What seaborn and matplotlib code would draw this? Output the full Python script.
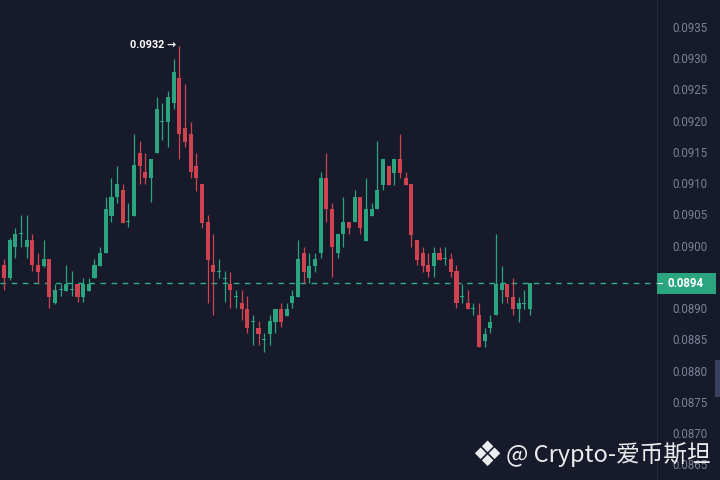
import numpy as np
import pandas as pd
import seaborn as sns
import matplotlib.pyplot as plt
from matplotlib.patches import Rectangle

# OHLC (one row per candle, left to right)
opens = [0.08969, 0.08948, 0.08998, 0.09019, 0.08998, 0.09009, 0.08969, 0.08967, 0.08979, 0.08908,
         0.08929, 0.08927, 0.08929, 0.08939, 0.08918, 0.08927, 0.08948, 0.08967, 0.08988, 0.09047,
         0.09078, 0.09089, 0.09038, 0.09047, 0.09148, 0.09118, 0.09108, 0.09148, 0.09198, 0.09198,
         0.09228, 0.09268, 0.09188, 0.09179, 0.09128, 0.09099, 0.09038, 0.08969, 0.08958, 0.08948,
         0.08939, 0.08919, 0.08908, 0.08899, 0.08879, 0.08868, 0.08849, 0.08859, 0.08878, 0.08899,
         0.08887, 0.08908, 0.08918, 0.08988, 0.08948, 0.08967, 0.08988, 0.09108, 0.09059, 0.08988,
         0.09019, 0.09038, 0.09038, 0.09078, 0.09007, 0.09047, 0.09059, 0.09097, 0.09128, 0.09116,
         0.09139, 0.09108, 0.09099, 0.09009, 0.08988, 0.08969, 0.08967, 0.08988, 0.08979, 0.08979,
         0.08959, 0.08918, 0.08908, 0.08899, 0.08889, 0.08847, 0.08868, 0.08889, 0.08929, 0.08939,
         0.08918, 0.08899, 0.08908, 0.08899]
highs = [0.08979, 0.09012, 0.09028, 0.09049, 0.09049, 0.09019, 0.08988, 0.09009, 0.08979, 0.08939,
         0.08939, 0.08969, 0.08959, 0.08939, 0.08948, 0.08948, 0.08979, 0.08998, 0.09078, 0.09108,
         0.09128, 0.09099, 0.09068, 0.09179, 0.09168, 0.09148, 0.09139, 0.09238, 0.09228, 0.09248,
         0.09299, 0.09320, 0.09259, 0.09198, 0.09148, 0.09099, 0.09049, 0.09019, 0.08979, 0.08959,
         0.08958, 0.08929, 0.08929, 0.08919, 0.08889, 0.08879, 0.08860, 0.08889, 0.08899, 0.08908,
         0.08908, 0.08929, 0.09009, 0.08998, 0.08988, 0.08988, 0.09118, 0.09148, 0.09068, 0.09019,
         0.09078, 0.09038, 0.09089, 0.09078, 0.09108, 0.09068, 0.09168, 0.09139, 0.09128, 0.09139,
         0.09179, 0.09118, 0.09099, 0.09009, 0.08998, 0.08988, 0.08998, 0.08998, 0.08998, 0.08988,
         0.08969, 0.08939, 0.08929, 0.08908, 0.08908, 0.08868, 0.08889, 0.09019, 0.08967, 0.08939,
         0.08948, 0.08918, 0.08929, 0.08940]
lows = [0.08929, 0.08945, 0.08980, 0.08998, 0.08980, 0.08959, 0.08940, 0.08966, 0.08900, 0.08907,
        0.08919, 0.08927, 0.08919, 0.08910, 0.08910, 0.08927, 0.08948, 0.08967, 0.08988, 0.09038,
        0.09068, 0.09036, 0.09030, 0.09047, 0.09099, 0.09099, 0.09070, 0.09148, 0.09169, 0.09158,
        0.09219, 0.09139, 0.09158, 0.09108, 0.09087, 0.09028, 0.08908, 0.08889, 0.08948, 0.08910,
        0.08900, 0.08900, 0.08881, 0.08860, 0.08841, 0.08841, 0.08830, 0.08841, 0.08860, 0.08870,
        0.08887, 0.08900, 0.08918, 0.08940, 0.08940, 0.08958, 0.08980, 0.09038, 0.08950, 0.08980,
        0.08998, 0.09019, 0.09038, 0.09019, 0.09007, 0.09047, 0.09059, 0.09089, 0.09097, 0.09097,
        0.09108, 0.09097, 0.08998, 0.08969, 0.08958, 0.08950, 0.08950, 0.08977, 0.08969, 0.08950,
        0.08900, 0.08908, 0.08899, 0.08889, 0.08838, 0.08838, 0.08860, 0.08889, 0.08908, 0.08908,
        0.08889, 0.08878, 0.08899, 0.08889]
closes = [0.08948, 0.09009, 0.09019, 0.09019, 0.09009, 0.08969, 0.08958, 0.08979, 0.08918, 0.08929,
          0.08929, 0.08939, 0.08929, 0.08918, 0.08939, 0.08939, 0.08969, 0.08988, 0.09059, 0.09078,
          0.09099, 0.09036, 0.09038, 0.09129, 0.09128, 0.09108, 0.09139, 0.09219, 0.09198, 0.09238,
          0.09278, 0.09179, 0.09166, 0.09118, 0.09108, 0.09036, 0.08977, 0.08958, 0.08958, 0.08948,
          0.08929, 0.08919, 0.08899, 0.08868, 0.08879, 0.08859, 0.08849, 0.08879, 0.08899, 0.08878,
          0.08899, 0.08919, 0.08979, 0.08958, 0.08967, 0.08979, 0.09108, 0.09059, 0.08998, 0.09019,
          0.09038, 0.09028, 0.09078, 0.09028, 0.09059, 0.09059, 0.09089, 0.09139, 0.09097, 0.09139,
          0.09116, 0.09097, 0.09017, 0.08977, 0.08967, 0.08958, 0.08988, 0.08977, 0.08979, 0.08958,
          0.08908, 0.08918, 0.08899, 0.08899, 0.08838, 0.08859, 0.08878, 0.08939, 0.08939, 0.08918,
          0.08899, 0.08908, 0.08908, 0.08940]
last_price = 0.0894
price_ticks = [0.0865, 0.0870, 0.0875, 0.0880, 0.0885, 0.0890, 0.0895,
               0.0900, 0.0905, 0.0910, 0.0915, 0.0920, 0.0925, 0.0930, 0.0935]
watermark = "@ Crypto-爱币斯坦"

df = pd.DataFrame({"open": opens, "high": highs, "low": lows, "close": closes})
df["idx"] = np.arange(len(df))
df["up"] = df["close"] >= df["open"]

bg = "#161a2a"
up_c = "#2aa57f"
dn_c = "#cf4351"

sns.set_theme(style="dark", rc={"axes.facecolor": bg, "figure.facecolor": bg,
                                "axes.edgecolor": "#22273a", "axes.grid": False})
plt.rcParams["font.family"] = ["Roboto", "Noto Sans CJK SC", "DejaVu Sans"]

fig = plt.figure(figsize=(7.2, 4.8), dpi=100)
ax = fig.add_axes([0, 0, 657 / 720, 1])

colors = np.where(df["up"], up_c, dn_c)
ax.vlines(df["idx"], df["low"], df["high"], colors=colors, linewidth=0.9, zorder=2)
body_h = np.maximum((df["close"] - df["open"]).abs(), 0.000016)
body_lo = np.minimum(df["open"], df["close"])
body_lo = np.where((df["close"] - df["open"]).abs() < 0.000016, body_lo - 0.000008, body_lo)
ax.bar(df["idx"], body_h, bottom=body_lo, width=0.72, color=colors, linewidth=0, zorder=3)

ax.set_xlim(-0.707, 115.45)
ax.set_ylim(0.086247, 0.093932)
ax.set_xticks([])
ax.set_yticks(price_ticks)
ax.set_yticklabels([f"{t:.4f}" for t in price_ticks])
ax.yaxis.tick_right()
ax.tick_params(axis="y", length=0, pad=11, labelcolor="#7b8198", labelsize=8.3)
for s in ["left", "top", "bottom"]:
    ax.spines[s].set_visible(False)
ax.spines["right"].set_color("#22273a")
ax.spines["right"].set_linewidth(0.8)

# current price line and tag
ax.axhline(last_price, color="#2fb089", linestyle=(0, (4, 4)), linewidth=1.0, zorder=1)
ytr = ax.get_yaxis_transform()
box_h = 21 / 62462
ax.add_patch(Rectangle((1.0, last_price - box_h / 2), 59 / 657, box_h, transform=ytr,
                       facecolor=up_c, edgecolor="none", clip_on=False, zorder=6))
ax.plot([1.0015, 1.007], [last_price, last_price], transform=ytr, color="white",
        linewidth=0.8, clip_on=False, zorder=7)
ax.text(668 / 657, last_price, f"{last_price:.4f}", transform=ytr, ha="left", va="center",
        color="white", fontsize=8.3, fontweight="bold", zorder=7, clip_on=False)

# highest-high marker
imax = df["high"].idxmax()
ax.text(imax - 0.5, df["high"].max() + 0.000005, f"{df['high'].max():.4f} →",
        ha="right", va="center", color="white", fontsize=7.8, fontweight="bold",
        family=["Roboto", "DejaVu Sans"])

# scroll tab on the right edge
fig.patches.append(Rectangle((715 / 720, 1 - 397 / 480), 5 / 720, 37 / 480,
                             transform=fig.transFigure, facecolor="#394060", edgecolor="none"))

# watermark
fig.text(487 / 720, 1 - 456 / 480, "❖", ha="center", va="center", color="white",
         fontsize=25, family=["DejaVu Sans"], alpha=0.92)
fig.text(506 / 720, 1 - 455 / 480, watermark, ha="left", va="center", color="white",
         fontsize=17, family=["Noto Sans CJK SC", "DejaVu Sans"], alpha=0.92)

fig.savefig("out.png", dpi=100, facecolor=bg)
